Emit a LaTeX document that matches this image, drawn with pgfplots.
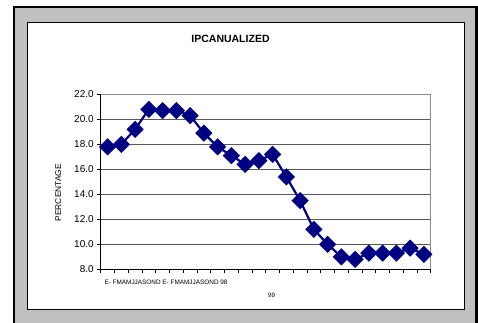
\documentclass[border=0pt]{standalone}
\usepackage{pgfplots}
\pgfplotsset{compat=1.18}
\usepackage{fontspec}
\setmainfont{Liberation Sans}
\definecolor{navyline}{RGB}{0,0,128}
\definecolor{panelgray}{RGB}{192,192,192}

\pgfplotstableread{
idx val
1 17.8
2 18.0
3 19.2
4 20.8
5 20.7
6 20.7
7 20.3
8 18.9
9 17.8
10 17.1
11 16.4
12 16.7
13 17.2
14 15.4
15 13.5
16 11.2
17 10.0
18 9.0
19 8.8
20 9.3
21 9.3
22 9.3
23 9.7
24 9.2
}\ipcdata

\begin{document}
\begin{tikzpicture}[x=1pt,y=1pt]
\useasboundingbox (0,0) rectangle (478,322);
\fill[white] (0,0) rectangle (478,322);
% outer gray panel with heavy black rule
\fill[panelgray] (14,-10) rectangle (476.5,315);
\draw[black, line width=2.7pt] (14,-10) -- (14,315) -- (476.5,315) -- (476.5,-10);
% white chart area
\draw[black, line width=1pt, fill=white] (27.3,12.7) rectangle (464.3,299.3);
% title and free-standing labels
\node[font=\fontsize{10.5}{12}\selectfont\bfseries] at (230.5,283) {IPCANUALIZED};
\node[font=\fontsize{6.4}{7}\selectfont, anchor=west, inner sep=0pt] at (104.3,39.3) {E- FMAMJJASOND E- FMAMJJASOND 98};
\node[font=\fontsize{6.3}{7}\selectfont, inner sep=0pt] at (271.7,26.7) {99};
\node[font=\fontsize{8.4}{10}\selectfont, rotate=90] at (58.3,129.3) {PERCENTAGE};

\begin{axis}[
  at={(100.7pt,52.7pt)}, anchor=south west,
  scale only axis, width=330pt, height=175pt,
  xmin=0.5, xmax=24.5, ymin=8, ymax=22,
  xtick={0.5,1.5,...,24.5}, xticklabels={},
  ytick={8,10,...,22},
  xtick pos=left, ytick pos=left,
  yticklabel style={/pgf/number format/.cd, fixed, fixed zerofill, precision=1, assume math mode=true},
  tick label style={font=\fontsize{10}{12}\selectfont},
  tick align=outside, major tick length=3.5pt,
  tick style={black, line width=0.8pt},
  axis line style={black!45, line width=1.2pt},
  ymajorgrids, grid style={black!65, line width=0.9pt},
  clip=false,
]
\draw[black, line width=1pt] (rel axis cs:0,1) -- (rel axis cs:0,0) -- (rel axis cs:1,0);
\addplot[navyline, line width=2.2pt, mark=square*, mark size=5pt,
  mark options={rotate=45, solid, fill=navyline, draw=navyline}]
  table[x=idx, y=val] {\ipcdata};
\end{axis}
\end{tikzpicture}
\end{document}
